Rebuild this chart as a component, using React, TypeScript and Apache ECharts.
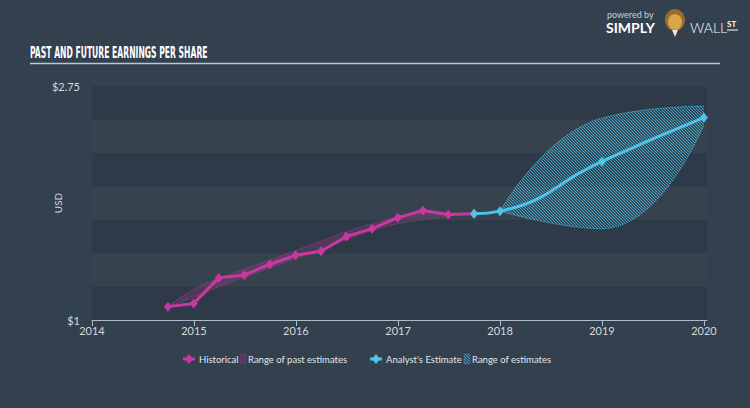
import React, { useEffect, useRef } from 'react';
import * as echarts from 'echarts';

// ---- data ----
const historicalDates = [
  '2014-09-30', '2014-12-31', '2015-03-31', '2015-06-30', '2015-09-30', '2015-12-31',
  '2016-03-31', '2016-06-30', '2016-09-30', '2016-12-31', '2017-03-31', '2017-06-30', '2017-09-30',
];
const historicalEps = [1.1, 1.124, 1.315, 1.337, 1.417, 1.484, 1.514, 1.625, 1.683, 1.765, 1.819, 1.789, 1.795];

const pastRangeDates = historicalDates.slice(0, 12);
const pastRangeHigh = [1.1, 1.23, 1.31, 1.38, 1.45, 1.52, 1.59, 1.66, 1.72, 1.77, 1.8, 1.8];
const pastRangeLow = [1.1, 1.17, 1.25, 1.32, 1.39, 1.46, 1.53, 1.6, 1.67, 1.72, 1.75, 1.77];

const forecastDates = ['2017-09-30', '2018-01-01', '2019-01-01', '2020-01-01'];
const forecastEps = [1.795, 1.814, 2.186, 2.514];

const estimateDates = ['2018-01-01', '2019-01-01', '2020-01-01'];
const estimateHigh = [1.814, 2.51, 2.6];
const estimateLow = [1.814, 1.683, 2.46];

const xMinDate = '2014-01-01';
const xMaxDate = '2020-01-12';
const yMin = 1;
const yMax = 2.75;

const MAGENTA = '#c8389f';
const CYAN = '#4fc3e8';
const BG = '#33404e';
const YEAR_MS = 365 * 24 * 3600 * 1000;

function pairs(dates: string[], vals: number[]) {
  return dates.map((d, i) => [d, vals[i]]);
}

function hatchUrl(color: string, bg: string, size = 3): string {
  const c = document.createElement('canvas');
  c.width = size;
  c.height = size;
  const ctx = c.getContext('2d')!;
  ctx.fillStyle = bg;
  ctx.fillRect(0, 0, size, size);
  ctx.strokeStyle = color;
  ctx.lineWidth = 1;
  ctx.beginPath();
  ctx.moveTo(0, 0);
  ctx.lineTo(size, size);
  ctx.moveTo(-1, size - 1);
  ctx.lineTo(1, size + 1);
  ctx.moveTo(size - 1, -1);
  ctx.lineTo(size + 1, 1);
  ctx.stroke();
  return c.toDataURL('image/png');
}

export default function App() {
  const ref = useRef<HTMLDivElement>(null);

  useEffect(() => {
    if (!ref.current) return;
    const chart = echarts.init(ref.current, null, { renderer: 'svg' });

    const cyanHatch = { image: hatchUrl('rgba(79,195,232,0.75)', 'rgba(60,150,190,0.12)'), repeat: 'repeat', imageWidth: 3, imageHeight: 3 };
    const magHatch = { image: hatchUrl('rgba(200,56,159,0.45)', 'rgba(200,56,159,0.08)'), repeat: 'repeat', imageWidth: 3, imageHeight: 3 };

    const diff = (a: number[], b: number[]) => a.map((v, i) => +(v - b[i]).toFixed(4));

    const labelFont = 'Lato, "Open Sans", sans-serif';

    const legendY = 359;
    const legendText = (x: number, text: string) => ({
      type: 'text', x, y: legendY,
      style: { text, fill: '#e2e6ea', fontSize: 9.5, fontFamily: labelFont, verticalAlign: 'middle' },
    });
    const diamondIcon = (x: number, color: string) => ({
      type: 'group', children: [
        { type: 'line', shape: { x1: x, y1: legendY, x2: x + 12, y2: legendY }, style: { stroke: color, lineWidth: 3 } },
        { type: 'polygon', shape: { points: [[x + 6, legendY - 5], [x + 10, legendY], [x + 6, legendY + 5], [x + 2, legendY]] }, style: { fill: color } },
      ],
    });
    const hatchIcon = (x: number, pat: any, stroke: string) => ({
      type: 'rect', shape: { x, y: legendY - 5, width: 6, height: 10 }, style: { fill: pat, stroke, lineWidth: 0.5 },
    });

    chart.setOption({
      animation: false,
      backgroundColor: BG,
      grid: { left: 92, right: 43, top: 86, bottom: 88, containLabel: false },
      xAxis: {
        type: 'time', min: xMinDate, max: xMaxDate, minInterval: YEAR_MS, maxInterval: YEAR_MS + 24 * 3600 * 1000,
        axisLine: { show: true, lineStyle: { color: '#aebbc8', width: 1 } },
        axisTick: { show: true, length: 6, lineStyle: { color: '#aebbc8' } },
        axisLabel: {
          color: '#d3d9df', fontSize: 11, fontFamily: labelFont, margin: 5, showMaxLabel: false,
          formatter: (v: number) => String(new Date(v + 12 * 3600 * 1000).getFullYear()),
        },
        splitLine: { show: false },
      },
      yAxis: {
        type: 'value', min: yMin, max: yMax, interval: 0.25,
        axisLine: { show: false }, axisTick: { show: false },
        axisLabel: {
          color: '#d3d9df', fontSize: 11, fontFamily: labelFont, margin: 12,
          formatter: (v: number) => (Math.abs(v - yMin) < 1e-6 ? '$1' : Math.abs(v - yMax) < 1e-6 ? '$2.75' : ''),
        },
        splitLine: { show: false },
        splitArea: { show: true, areaStyle: { color: ['#2e3a48', '#36434f'] } },
      },
      series: [
        {
          type: 'line', name: 'pastLow', stack: 'past', smooth: true, symbol: 'none',
          data: pairs(pastRangeDates, pastRangeLow),
          lineStyle: { color: MAGENTA, width: 1, type: 'dotted', opacity: 0.7 },
        },
        {
          type: 'line', name: 'pastHigh', stack: 'past', smooth: true, symbol: 'none',
          data: pairs(pastRangeDates, diff(pastRangeHigh, pastRangeLow)),
          lineStyle: { color: MAGENTA, width: 1, type: 'dotted', opacity: 0.7 },
          areaStyle: { color: magHatch, opacity: 1 },
        },
        {
          type: 'line', name: 'estLow', stack: 'est', smooth: true, symbol: 'none',
          data: pairs(estimateDates, estimateLow),
          lineStyle: { color: CYAN, width: 1, type: 'dotted', opacity: 0.85 },
        },
        {
          type: 'line', name: 'estHigh', stack: 'est', smooth: true, symbol: 'none',
          data: pairs(estimateDates, diff(estimateHigh, estimateLow)),
          lineStyle: { color: CYAN, width: 1, type: 'dotted', opacity: 0.85 },
          areaStyle: { color: cyanHatch, opacity: 1 },
        },
        {
          type: 'line', name: 'Historical', symbol: 'diamond', symbolSize: [8, 10], z: 5,
          data: pairs(historicalDates, historicalEps),
          lineStyle: { color: MAGENTA, width: 3 }, itemStyle: { color: MAGENTA },
        },
        {
          type: 'line', name: "Analyst's Estimate", smooth: true, symbol: 'diamond', symbolSize: [8, 10], z: 6,
          data: pairs(forecastDates, forecastEps),
          lineStyle: { color: CYAN, width: 3 }, itemStyle: { color: CYAN },
        },
      ],
      graphic: [
        {
          type: 'text', x: 30, y: 53, scaleX: 0.567,
          style: {
            text: 'PAST AND FUTURE EARNINGS PER SHARE', fill: '#ffffff', fontSize: 15, fontWeight: 'bold',
            fontFamily: '"Liberation Sans Narrow", "DejaVu Sans Condensed", sans-serif', verticalAlign: 'middle',
          },
        },
        { type: 'line', shape: { x1: 30, y1: 63.5, x2: 720, y2: 63.5 }, style: { stroke: '#b3c8dc', lineWidth: 1.5 } },
        {
          type: 'text', x: 58, y: 203, rotation: Math.PI / 2,
          style: { text: 'USD', fill: '#d3d9df', fontSize: 10, fontFamily: labelFont, align: 'center', verticalAlign: 'middle' },
        },
        // logo
        { type: 'text', x: 607, y: 14, style: { text: 'powered by', fill: '#c9d0d6', fontSize: 9, fontFamily: labelFont, verticalAlign: 'middle' } },
        { type: 'text', x: 606, y: 27, style: { text: 'SIMPLY', fill: '#ffffff', fontSize: 14, fontWeight: 'bold', fontFamily: labelFont, verticalAlign: 'middle' } },
        { type: 'ellipse', shape: { cx: 675, cy: 20, rx: 10, ry: 11 }, style: { fill: '#9a6a32' } },
        { type: 'ellipse', shape: { cx: 675, cy: 22, rx: 7, ry: 8 }, style: { fill: '#d9a548' } },
        { type: 'polygon', shape: { points: [[666, 30], [684, 30], [688, 38], [662, 38]] }, style: { fill: '#3b3f46' } },
        { type: 'polygon', shape: { points: [[672, 30], [678, 30], [675, 37]] }, style: { fill: '#e8e8e8' } },
        { type: 'text', x: 690, y: 27, style: { text: 'WALL', fill: '#ffffff', fontSize: 14, fontWeight: 300, fontFamily: labelFont, verticalAlign: 'middle' } },
        { type: 'text', x: 727, y: 24, style: { text: 'ST', fill: '#ffffff', fontSize: 8, fontWeight: 'bold', fontFamily: labelFont, verticalAlign: 'middle' } },
        { type: 'line', shape: { x1: 727, y1: 30, x2: 738, y2: 30 }, style: { stroke: '#ffffff', lineWidth: 1 } },
        // legend
        diamondIcon(183, MAGENTA),
        legendText(199, 'Historical'),
        hatchIcon(240, magHatch, 'rgba(200,56,159,0.4)'),
        legendText(248, 'Range of past estimates'),
        diamondIcon(370, CYAN),
        legendText(386, "Analyst's Estimate"),
        hatchIcon(464, cyanHatch, 'rgba(79,195,232,0.4)'),
        legendText(472, 'Range of estimates'),
      ],
    });

    return () => chart.dispose();
  }, []);

  return (
    <div
      ref={ref}
      style={{ position: 'fixed', left: 0, top: 0, width: 750, height: 408, background: BG }}
    />
  );
}
